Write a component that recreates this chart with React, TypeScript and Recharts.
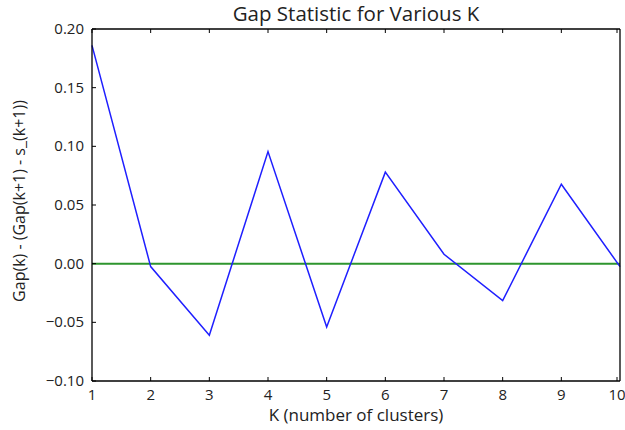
import React from 'react';
import { LineChart, Line, XAxis, YAxis, ReferenceLine } from 'recharts';

const kValues = [1, 2, 3, 4, 5, 6, 7, 8, 9, 10];
const gapDiff = [0.186, -0.0025, -0.061, 0.0955, -0.054, 0.078, 0.008, -0.0315, 0.0677, -0.0025];
const xTicks = [1, 2, 3, 4, 5, 6, 7, 8, 9, 10];
const yTicks = [-0.1, -0.05, 0, 0.05, 0.1, 0.15, 0.2];

const data = kValues.map((k, i) => ({ k, gap: gapDiff[i] }));

const FONT = '"Open Sans", "DejaVu Sans", sans-serif';
const TXT = '#222';
const AXIS = { stroke: '#000', strokeWidth: 1.3 };

const fmtY = (v: number) => {
  const s = Math.abs(v).toFixed(2);
  return v < 0 ? '\u2212' + s : s;
};

// matplotlib classic style: ticks point into the plot
const LeftTick = (p: any) => (
  <g>
    <line x1={p.x} x2={p.x + 4} y1={p.y} y2={p.y} stroke="#000" />
    <text x={p.x - 8} y={p.y} dy={5} textAnchor="end" fontSize={15} fontFamily={FONT} fill={TXT}>
      {fmtY(p.payload.value)}
    </text>
  </g>
);
const RightTick = (p: any) => <line x1={p.x} x2={p.x - 4} y1={p.y} y2={p.y} stroke="#000" />;
const BottomTick = (p: any) => (
  <g>
    <line x1={p.x} x2={p.x} y1={p.y} y2={p.y - 4} stroke="#000" />
    <text x={p.x} y={p.y + 19} textAnchor="middle" fontSize={15} fontFamily={FONT} fill={TXT}>
      {p.payload.value}
    </text>
  </g>
);
const TopTick = (p: any) => <line x1={p.x} x2={p.x} y1={p.y} y2={p.y + 4} stroke="#000" />;

export default function App() {
  return (
    <div style={{ position: 'absolute', left: 0, top: 0, background: '#fff' }}>
      <LineChart width={625} height={430} data={data} margin={{ top: 28, right: 4, bottom: 0, left: 0 }}>
        <XAxis
          xAxisId="bottom"
          dataKey="k"
          type="number"
          domain={[1, 10]}
          ticks={xTicks}
          height={49}
          tickSize={0}
          tickMargin={0}
          tick={<BottomTick />}
          axisLine={AXIS}
          label={{
            content: (p: any) => (
              <text
                x={p.viewBox.x + p.viewBox.width / 2}
                y={p.viewBox.y + 40}
                textAnchor="middle"
                fontSize={17}
                fontFamily={FONT}
                fill={TXT}
              >
                K (number of clusters)
              </text>
            ),
          }}
        />
        <XAxis
          xAxisId="top"
          orientation="top"
          dataKey="k"
          type="number"
          domain={[1, 10]}
          ticks={xTicks}
          height={1}
          tickSize={0}
          tickMargin={0}
          tick={<TopTick />}
          axisLine={AXIS}
          label={{
            content: (p: any) => (
              <text
                x={p.viewBox.x + p.viewBox.width / 2}
                y={21}
                textAnchor="middle"
                fontSize={20.5}
                fontFamily={FONT}
                fill={TXT}
              >
                Gap Statistic for Various K
              </text>
            ),
          }}
        />
        <YAxis
          yAxisId="left"
          type="number"
          domain={[-0.1, 0.2]}
          ticks={yTicks}
          width={92}
          tickSize={0}
          tickMargin={0}
          tick={<LeftTick />}
          axisLine={AXIS}
          label={{
            content: (p: any) => {
              const cx = p.viewBox.x + 20;
              const cy = p.viewBox.y + p.viewBox.height / 2 - 4;
              return (
                <text
                  x={cx}
                  y={cy}
                  transform={`rotate(-90 ${cx} ${cy})`}
                  dy={5}
                  textAnchor="middle"
                  fontSize={16}
                  fontFamily={FONT}
                  fill={TXT}
                >
                  Gap(k) - (Gap(k+1) - s_(k+1))
                </text>
              );
            },
          }}
        />
        <YAxis
          yAxisId="right"
          orientation="right"
          type="number"
          domain={[-0.1, 0.2]}
          ticks={yTicks}
          width={1}
          tickSize={0}
          tickMargin={0}
          tick={<RightTick />}
          axisLine={AXIS}
        />
        <ReferenceLine xAxisId="bottom" yAxisId="left" y={0} stroke="#2e952e" strokeWidth={2} />
        <Line
          xAxisId="bottom"
          yAxisId="left"
          type="linear"
          dataKey="gap"
          stroke="#1f1fff"
          strokeWidth={1.5}
          dot={false}
          activeDot={false}
          isAnimationActive={false}
        />
      </LineChart>
    </div>
  );
}
